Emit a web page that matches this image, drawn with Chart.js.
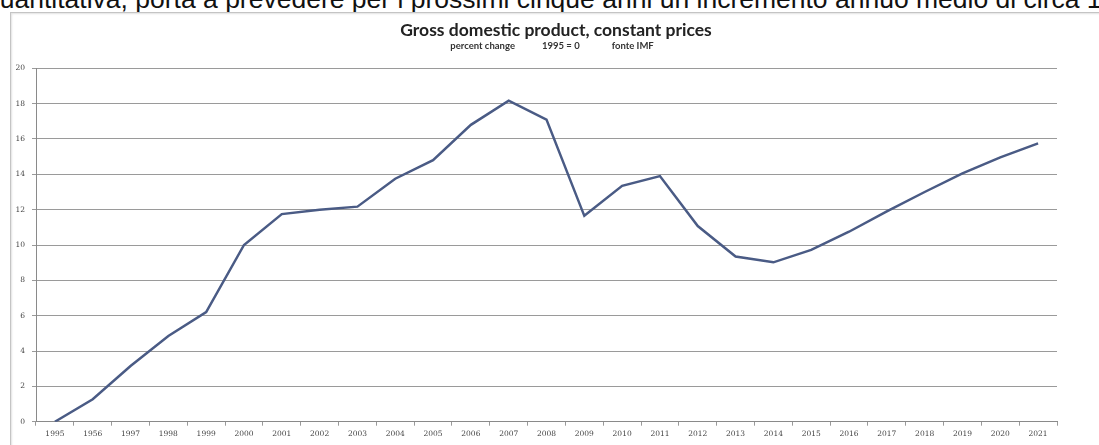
<!DOCTYPE html>
<html>
<head>
<meta charset="utf-8">
<script src="https://cdn.jsdelivr.net/npm/chart.js@4"></script>
<style>
  html, body { margin: 0; padding: 0; background: #fff; }
  #page { position: relative; width: 1099px; height: 445px; overflow: hidden; }
  #intro {
    position: absolute; top: -16px; left: -15px;
    font-family: "Liberation Sans", Arial, sans-serif; font-size: 26.5px;
    white-space: nowrap; color: #111;
  }
  #frame {
    position: absolute; left: 10px; top: 12px; width: 1100px; height: 440px;
    border: 1px solid #c4c4c4; box-shadow: inset 1px 1px 2px #e2e2e2;
  }
  #wrap { position: absolute; left: 0; top: 0; width: 1099px; height: 445px; }
  .ttl {
    position: absolute; white-space: nowrap; font-family: Lato, sans-serif; font-weight: bold;
    transform: translate(-50%, -50%);
  }
  #title { left: 556px; top: 29px; font-size: 17.5px; color: #222; }
  #sub { left: 552px; top: 45px; font-size: 9.5px; color: #333; }
  #sub span + span { margin-left: 27px; }
</style>
</head>
<body>
<div id="page">
  <div id="intro">quantitativa, porta a prevedere per i prossimi cinque anni un incremento annuo medio di circa 1</div>
  <div id="frame"></div>
  <div id="wrap"><canvas id="gdpChart"></canvas></div>
  <div id="title" class="ttl">Gross domestic product, constant prices</div>
  <div id="sub" class="ttl"><span>percent change</span><span>1995 = 0</span><span style="margin-left:32px">fonte IMF</span></div>
</div>
<script>
// years as printed on the axis (the source really says 1956)
const years = ['1995','1956','1997','1998','1999','2000','2001','2002','2003','2004','2005','2006','2007',
               '2008','2009','2010','2011','2012','2013','2014','2015','2016','2017','2018','2019','2020','2021'];
const gdpChange = [0, 1.27, 3.15, 4.85, 6.2, 10.0, 11.75, 12.0, 12.17, 13.75, 14.8, 16.8, 18.17,
                   17.1, 11.65, 13.35, 13.9, 11.07, 9.35, 9.02, 9.72, 10.75, 11.9, 13.0, 14.05, 14.96, 15.75];
const yTicks = [0, 2, 4, 6, 8, 10, 12, 14, 16, 18, 20];

const ctx = document.getElementById('gdpChart').getContext('2d');
new Chart(ctx, {
  type: 'line',
  data: {
    labels: years,
    datasets: [{
      label: 'GDP',
      data: gdpChange,
      borderColor: '#4a5b85',
      borderWidth: 2.5,
      pointRadius: 0,
      tension: 0,
      fill: false
    }]
  },
  options: {
    responsive: true,
    maintainAspectRatio: false,
    animation: false,
    layout: { padding: { top: 68.3, left: 10, right: 42, bottom: 0 } },
    plugins: {
      legend: { display: false },
      tooltip: { enabled: false }
    },
    scales: {
      x: {
        offset: true,
        grid: { drawOnChartArea: false, drawTicks: true, tickLength: 4, offset: true, color: '#9a9a9a' },
        border: { display: true, color: '#8a8a8a', width: 1 },
        ticks: { color: '#444', font: { family: 'DejaVu Serif', size: 7.5 }, padding: 4, maxRotation: 0, autoSkip: false },
        afterFit(scale) { scale.height = 23.3; }
      },
      y: {
        min: 0,
        max: 20,
        afterBuildTicks(scale) { scale.ticks = yTicks.map(v => ({ value: v })); },
        grid: { color: '#9a9a9a', lineWidth: 1, tickLength: 4 },
        border: { display: true, color: '#8a8a8a', width: 1 },
        ticks: { color: '#444', font: { family: 'DejaVu Serif', size: 7.5 }, padding: 7 },
        afterFit(scale) { scale.width = 26; }
      }
    }
  }
});
</script>
</body>
</html>
